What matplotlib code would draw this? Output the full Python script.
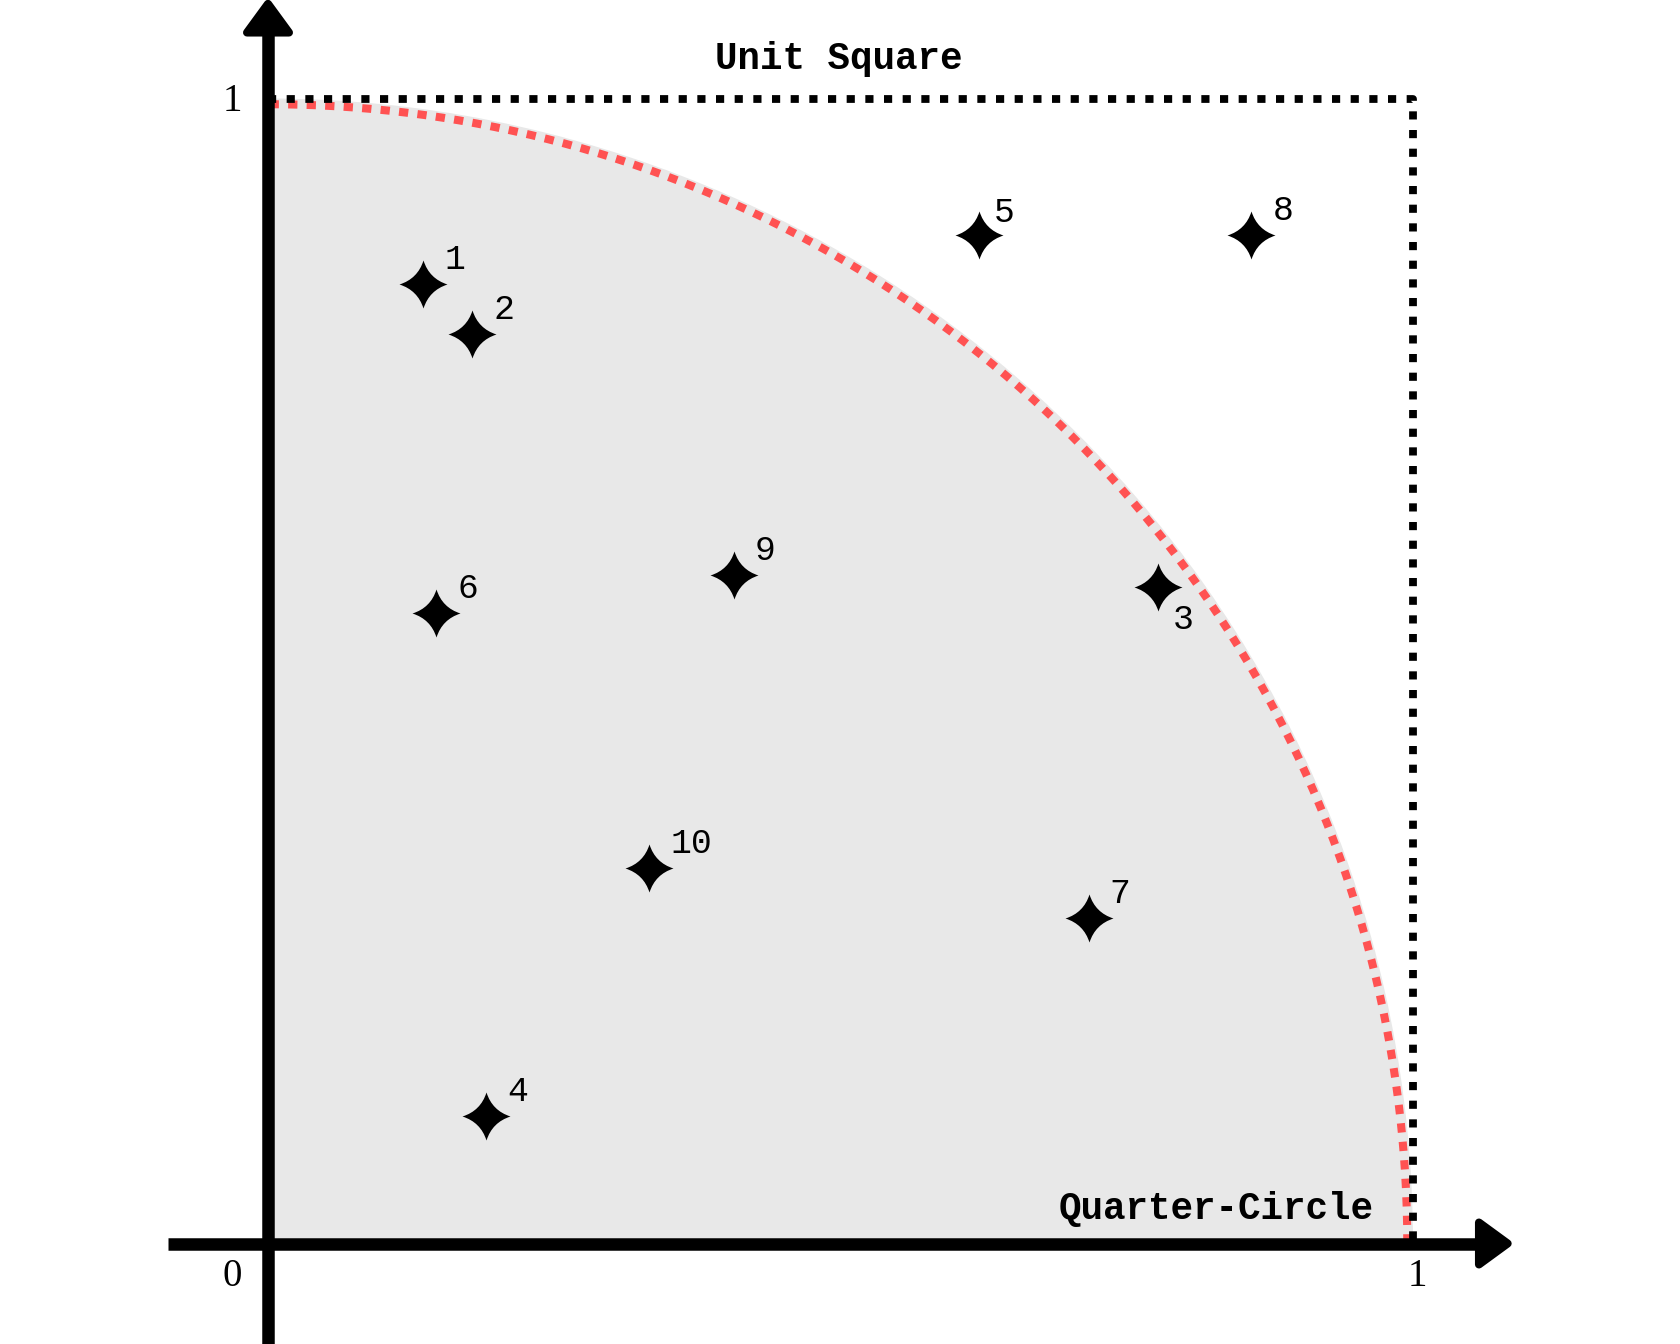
import numpy as np
import matplotlib
matplotlib.use("Agg")
import matplotlib.pyplot as plt
from matplotlib.path import Path
from matplotlib.patches import Wedge, Polygon

# ---- data ----
point_ids = [1, 2, 3, 4, 5, 6, 7, 8, 9, 10]
point_x = [0.1355, 0.1786, 0.7775, 0.1907, 0.6212, 0.1468, 0.7167, 0.8589, 0.4069, 0.3330]
point_y = [0.8380, 0.7940, 0.5733, 0.1110, 0.8810, 0.5508, 0.2841, 0.8810, 0.5836, 0.3280]
tick_labels = ["0", "1", "1"]
title_top = "Unit Square"
title_bottom = "Quarter-Circle"

# ---- figure ----
PX = 1145.0  # pixels per data unit
fig = plt.figure(figsize=(16.8, 13.44), dpi=100)
ax = fig.add_axes([0, 0, 1, 1])
ax.set_xlim(-268 / PX, (1680 - 268) / PX)
ax.set_ylim(-(1344 - 1243.5) / PX, 1243.5 / PX)
ax.axis("off")

def px2pt(v):
    return v * 72.0 / 100.0

# grey quarter disc
ax.add_patch(Wedge((0, 0), 1.0, 0, 90, facecolor="#e8e8e8", edgecolor="none", zorder=1))

# red dotted quarter circle
theta = np.linspace(0, np.pi / 2, 400)
r = 0.995
ax.plot(r * np.cos(theta), r * np.sin(theta), color="#ff5252", lw=5.8,
        linestyle=(0, (1.15, 1.15)), solid_capstyle="butt", dash_capstyle="butt", zorder=2)

# dotted unit square (top and right)
ax.plot([0, 1, 1], [1, 1, 0], color="black", lw=5.6, linestyle=(0, (1.05, 1.35)),
        dash_capstyle="butt", zorder=2)

# axes with arrows
axis_lw = px2pt(12.5)
ax.plot([-0.0871, 1.06], [0, 0], color="black", lw=axis_lw, solid_capstyle="butt", zorder=3)
ax.plot([0, 0], [-0.12, 1.06], color="black", lw=axis_lw, solid_capstyle="butt", zorder=3)
xb, xt, hh = 1.0576, 1.0827, 0.01834
head_lw = px2pt(8)
ax.add_patch(Polygon([[xb, -hh], [xt, 0], [xb, hh]], closed=True, facecolor="black",
                     edgecolor="black", lw=head_lw, joinstyle="round", zorder=3))
ax.add_patch(Polygon([[-hh, xb], [0, xt], [hh, xb]], closed=True, facecolor="black",
                     edgecolor="black", lw=head_lw, joinstyle="round", zorder=3))

# star marker
c = 0.24
verts = [(0, 1), (c, c), (1, 0), (c, -c), (0, -1), (-c, -c), (-1, 0), (-c, c), (0, 1), (0, 1)]
codes = [Path.MOVETO] + [Path.CURVE3] * 8 + [Path.CLOSEPOLY]
star = Path(verts, codes)

ax.plot(point_x, point_y, linestyle="none", marker=star, markersize=px2pt(48),
        color="black", markeredgewidth=0, zorder=4)

# labels next to points
label_font = dict(family=["Liberation Mono", "DejaVu Sans Mono"], fontsize=25,
                  fontweight="light", color="black")
for pid, x, y in zip(point_ids, point_x, point_y):
    if pid == 3:
        off = (14.5, -42)
    elif pid == 5:
        off = (14.5, 13)
    else:
        off = (21, 15)
    ax.annotate(str(pid), (x, y), xytext=(px2pt(off[0]), px2pt(off[1])),
                textcoords="offset points", ha="left", va="baseline", zorder=5, **label_font)

# tick labels
tick_font = dict(family=["Liberation Serif", "DejaVu Serif"], fontsize=28, color="black")
ax.text(-0.0317, -0.0367, tick_labels[0], ha="center", va="baseline", **tick_font)
ax.text(1.004, -0.0367, tick_labels[1], ha="center", va="baseline", **tick_font)
ax.text(-0.0314, 0.9893, tick_labels[2], ha="center", va="baseline", **tick_font)

# titles
bold_font = dict(family=["Liberation Mono", "DejaVu Sans Mono"], fontsize=27,
                 fontweight="bold", color="black")
ax.text(0.4987, 1.0262, title_top, ha="center", va="baseline", zorder=5, **bold_font)
ax.text(0.966, 0.0214, title_bottom, ha="right", va="baseline", zorder=5, **bold_font)

fig.savefig("out.png", dpi=100)
